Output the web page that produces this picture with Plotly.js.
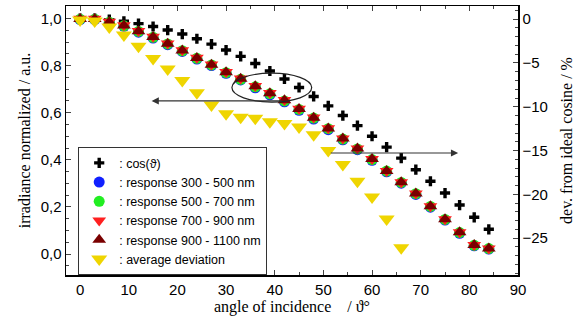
<!DOCTYPE html>
<html>
<head>
<meta charset="utf-8">
<script src="https://cdn.plot.ly/plotly-3.0.1.min.js"></script>
<style>html,body{margin:0;padding:0;background:#fff;}#chart{width:587px;height:322px;}</style>
</head>
<body>
<div id="chart"></div>
<script>
// angle of incidence (deg)
const angles = [0,3,6,9,12,15,18,21,24,27,30,33,36,39,42,45,48,51,54,57,60,63,66,69,72,75,78,81,84];
// ideal cosine
const cosIdeal = [1.000,0.999,0.995,0.988,0.978,0.966,0.951,0.934,0.914,0.891,0.866,0.839,0.809,0.777,0.743,0.707,0.669,0.629,0.588,0.545,0.500,0.454,0.407,0.358,0.309,0.259,0.208,0.156,0.105];
// measured responses
const resp300 = [0.995,0.995,0.982,0.967,0.942,0.917,0.889,0.860,0.828,0.800,0.767,0.739,0.706,0.676,0.646,0.610,0.573,0.528,0.485,0.443,0.398,0.349,0.301,0.253,0.199,0.144,0.088,0.035,0.021];
const resp500 = [0.997,0.997,0.984,0.969,0.945,0.920,0.892,0.863,0.831,0.803,0.770,0.742,0.710,0.680,0.650,0.614,0.577,0.532,0.488,0.446,0.401,0.352,0.304,0.256,0.202,0.147,0.091,0.037,0.023];
const resp700 = [0.999,0.999,0.986,0.971,0.947,0.922,0.894,0.865,0.833,0.805,0.773,0.745,0.713,0.684,0.654,0.617,0.580,0.534,0.490,0.448,0.403,0.353,0.305,0.257,0.203,0.148,0.092,0.038,0.024];
const resp900 = [0.998,0.998,0.985,0.970,0.946,0.921,0.893,0.864,0.832,0.804,0.772,0.744,0.712,0.683,0.653,0.616,0.579,0.533,0.490,0.448,0.403,0.353,0.305,0.257,0.203,0.148,0.092,0.038,0.024];
// average deviation from ideal cosine (%)
const avgAngles = [0,3,6,9,12,15,18,21,24,27,30,33,36,39,42,45,48,51,54,57,60,63,66];
const avgDev = [-0.1,-0.2,-0.9,-1.8,-3.1,-4.5,-5.7,-7.0,-8.4,-9.8,-10.8,-11.2,-11.3,-11.7,-11.9,-12.3,-13.2,-15.0,-16.6,-18.5,-20.3,-22.8,-26.1];
const names = [': cos(\u03d1)', ': response 300 - 500 nm', ': response 500 - 700 nm', ': response 700 - 900 nm', ': response 900 - 1100 nm', ': average deviation'];

const traces = [
  {x: angles, y: cosIdeal, name: names[0], mode: 'markers', type: 'scatter',
   marker: {symbol: 'cross', size: 8.5, color: '#000000'}},
  {x: angles, y: resp300, name: names[1], mode: 'markers', type: 'scatter',
   marker: {symbol: 'circle', size: 11, color: '#1020ff'}},
  {x: angles, y: resp500, name: names[2], mode: 'markers', type: 'scatter',
   marker: {symbol: 'circle', size: 11, color: '#22ee22'}},
  {x: angles, y: resp700, name: names[3], mode: 'markers', type: 'scatter',
   marker: {symbol: 'triangle-down', size: 12, color: '#ff2020'}},
  {x: angles, y: resp900, name: names[4], mode: 'markers', type: 'scatter',
   marker: {symbol: 'triangle-up', size: 12, color: '#7a0000'}},
  {x: avgAngles, y: avgDev, name: names[5], mode: 'markers', type: 'scatter', yaxis: 'y2',
   marker: {symbol: 'triangle-down', size: 14, color: '#efd500'}}
];

const tickFont = {family: 'Liberation Sans, Arial, sans-serif', size: 15, color: '#000'};
const titleFont = {family: 'Liberation Serif, Times New Roman, serif', size: 16, color: '#000'};

const layout = {
  width: 587, height: 322,
  margin: {l: 66, r: 69, t: 6, b: 47},
  paper_bgcolor: '#fff', plot_bgcolor: '#fff',
  separators: ',.',
  showlegend: true,
  legend: {x: 0.027, y: 0.475, xanchor: 'left', yanchor: 'top',
    bgcolor: '#fff', bordercolor: '#333', borderwidth: 1,
    font: {family: 'Liberation Sans, Arial, sans-serif', size: 12.5, color: '#000'},
    tracegroupgap: 0, itemwidth: 30},
  xaxis: {range: [-2.9, 90], dtick: 10, tick0: 0, ticks: 'inside', ticklen: 5, tickwidth: 1,
    minor: {dtick: 5, ticks: 'inside', ticklen: 3}, showline: true, linecolor: '#000', linewidth: 1.5,
    mirror: 'ticks', showgrid: false, zeroline: false, tickfont: tickFont,
    title: {text: 'angle of incidence\u00a0\u00a0\u00a0\u00a0/ \u03d1\u00b0', font: titleFont, standoff: 4}},
  yaxis: {range: [-0.089, 1.053], dtick: 0.2, tick0: 0, tickformat: '.1f', ticks: 'inside', ticklen: 5,
    minor: {dtick: 0.05, ticks: 'inside', ticklen: 3}, showline: true, linecolor: '#000', linewidth: 1.5,
    showgrid: false, zeroline: false, tickfont: tickFont,
    title: {text: 'irradiance normalized / a.u.', font: titleFont, standoff: 6}},
  yaxis2: {overlaying: 'y', side: 'right', range: [-29.2, 1.5], dtick: 5, tick0: 0, ticks: 'inside', ticklen: 5,
    minor: {dtick: 1, ticks: 'inside', ticklen: 3}, showline: true, linecolor: '#000', linewidth: 1.5,
    showgrid: false, zeroline: false, tickfont: tickFont,
    title: {text: 'dev. from ideal cosine / %', font: titleFont, standoff: 14}},
  shapes: [
    {type: 'circle', xref: 'x', yref: 'y', x0: 31.2, x1: 47.6, y0: 0.645, y1: 0.768,
     line: {color: '#222', width: 1.2}}
  ],
  annotations: [
    {xref: 'x', yref: 'y', axref: 'x', ayref: 'y', x: 14.7, y: 0.65, ax: 41.7, ay: 0.65,
     showarrow: true, arrowhead: 2, arrowsize: 1.2, arrowwidth: 1.2, arrowcolor: '#333', text: ''},
    {xref: 'x', yref: 'y', axref: 'x', ayref: 'y', x: 77.7, y: 0.429, ax: 51.2, ay: 0.429,
     showarrow: true, arrowhead: 2, arrowsize: 1.2, arrowwidth: 1.2, arrowcolor: '#333', text: ''}
  ]
};

Plotly.newPlot('chart', traces, layout, {displayModeBar: false, staticPlot: true});
</script>
</body>
</html>
